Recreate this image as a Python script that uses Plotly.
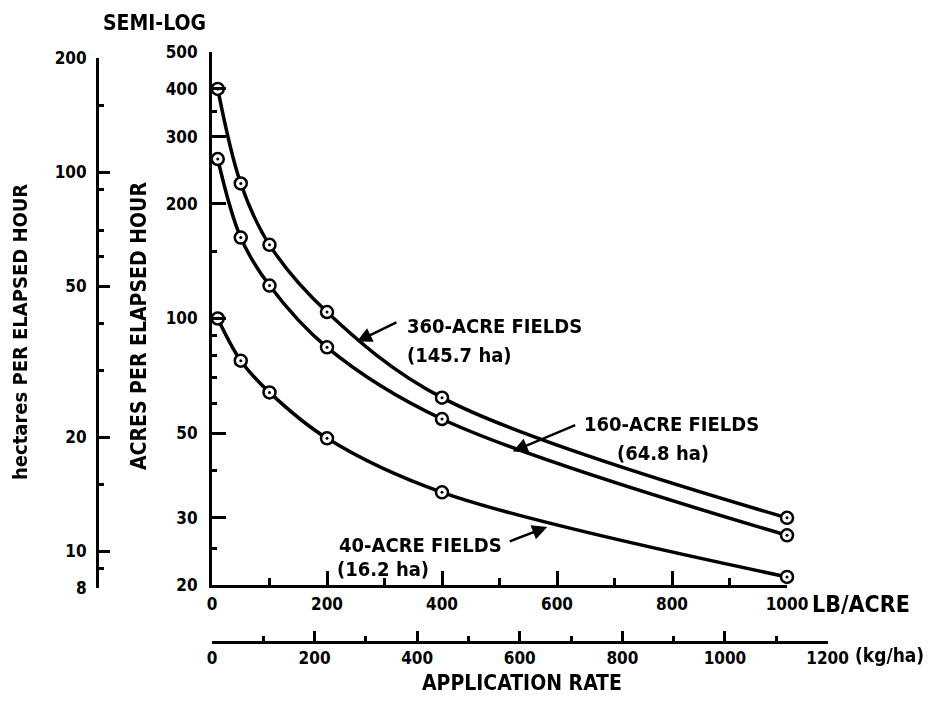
import math
import plotly.graph_objects as go

# application rate, lb/acre
rates = [10, 50, 100, 200, 400, 1000]

# acres per elapsed hour
acres_360 = [400, 226, 156, 104, 62, 30]
acres_160 = [262, 163, 122, 84, 54.5, 27]
acres_40 = [100, 77.5, 64, 48.5, 35, 21]

acre_ticks = [20, 30, 50, 100, 200, 300, 400, 500]
acre_minor = [25, 40, 60, 70, 80, 90, 150, 350]
ha_ticks = [8, 10, 20, 50, 100, 200]
ha_minor = [9, 15, 30, 40, 60, 70, 90, 150]
lb_ticks = [0, 200, 400, 600, 800, 1000]
lb_minor = [100, 300, 500, 700, 900]
kg_ticks = [0, 200, 400, 600, 800, 1000, 1200]
kg_minor = [100, 300, 500, 700, 900, 1100]

LB_TO_KG = 1.121    # lb/acre -> kg/ha
ACRE_TO_HA = 0.4047

W, H = 935, 704
OFF = 8  # page body margin
FONT = "DejaVu Sans Condensed, Liberation Sans Narrow, sans-serif"


def px(x):
    return (x - OFF) / W


def py(y):
    return 1 - (y - OFF) / H


fig = go.Figure()

for vals in [acres_360, acres_160, acres_40]:
    fig.add_trace(go.Scatter(
        x=rates, y=vals, mode='lines+markers',
        line=dict(color='black', width=3.5, shape='spline', smoothing=1),
        marker=dict(symbol='circle', size=12, color='white', line=dict(color='black', width=2.5)),
        cliponaxis=False, showlegend=False, hoverinfo='skip'))
    fig.add_trace(go.Scatter(
        x=rates, y=vals, mode='markers',
        marker=dict(symbol='circle', size=3, color='black'),
        cliponaxis=False, showlegend=False, hoverinfo='skip'))

# hidden traces so the secondary axes get drawn
fig.add_trace(go.Scatter(x=rates, y=[v * ACRE_TO_HA for v in acres_40], yaxis='y2',
                         mode='markers', opacity=0, showlegend=False, hoverinfo='skip'))
fig.add_trace(go.Scatter(x=[r * LB_TO_KG for r in rates], y=acres_40, xaxis='x2',
                         mode='markers', opacity=0, showlegend=False, hoverinfo='skip'))

tick_font = dict(family=FONT, size=17, color='black', weight='bold')
kg_px = 575 / 1000 / LB_TO_KG

axis_common = dict(showline=True, linecolor='black', linewidth=3, showgrid=False,
                   zeroline=False, ticks='inside', tickcolor='black', tickwidth=2.5,
                   tickfont=tick_font, automargin=False)

fig.update_layout(
    width=W, height=H,
    margin=dict(l=0, r=0, t=0, b=0),
    paper_bgcolor='white', plot_bgcolor='rgba(0,0,0,0)',
    xaxis=dict(domain=[px(212), px(787)], range=[0, 1000], anchor='y',
               tickvals=lb_ticks, ticklen=14, ticklabelstandoff=2,
               minor=dict(tickvals=lb_minor, ticklen=7, ticks='inside', tickwidth=2.5, tickcolor='black'),
               **axis_common),
    xaxis2=dict(domain=[px(212), px(212 + 1200 * kg_px)], range=[0, 1200], anchor='free',
                position=py(642), side='bottom',
                tickvals=kg_ticks, ticklen=10, ticklabelstandoff=0,
                minor=dict(tickvals=kg_minor, ticklen=5, ticks='inside', tickwidth=2.5, tickcolor='black'),
                **axis_common),
    yaxis=dict(type='log', domain=[py(585), py(52)], range=[math.log10(20), math.log10(500)],
               anchor='x', tickvals=acre_ticks, ticklen=14, ticklabelstandoff=8,
               minor=dict(tickvals=acre_minor, ticklen=5, ticks='inside', tickwidth=2.5, tickcolor='black'),
               **axis_common),
    yaxis2=dict(type='log', domain=[py(588), py(58)], range=[math.log10(8), math.log10(200)],
                anchor='free', position=px(97), side='left',
                tickvals=ha_ticks, ticklen=11, ticklabelstandoff=6,
                minor=dict(tickvals=ha_minor, ticklen=5, ticks='inside', tickwidth=2.5, tickcolor='black'),
                **axis_common),
)

label_font = dict(family=FONT, size=20, color='black')
small_font = dict(family=FONT, size=20, color='black')


def text(x, y, s, font, anchor='left', angle=0):
    fig.add_annotation(x=px(x), y=py(y), xref='paper', yref='paper', text=s,
                       showarrow=False, xanchor=anchor, yanchor='middle',
                       font=font, textangle=angle)


text(154, 23, '<b>SEMI-LOG</b>', dict(family=FONT, size=21, color='black'), anchor='center')
text(20, 332, '<b>hectares PER ELAPSED HOUR</b>', dict(family=FONT, size=20, color='black'),
     anchor='center', angle=-90)
text(139, 326, '<b>ACRES PER ELAPSED HOUR</b>', dict(family=FONT, size=21, color='black'),
     anchor='center', angle=-90)

text(405, 326, '<b>360-ACRE FIELDS</b>', label_font)
text(405, 355, '<b>(145.7 ha)</b>', small_font)
text(582, 424, '<b>160-ACRE FIELDS</b>', label_font)
text(615, 453, '<b>(64.8 ha)</b>', small_font)
text(337, 545, '<b>40-ACRE FIELDS</b>', label_font)
text(335, 569, '<b>(16.2 ha)</b>', small_font)

text(810, 604, '<b>LB/ACRE</b>', dict(family=FONT, size=23, color='black'))
text(853, 655, '<b>(kg/ha)</b>', dict(family=FONT, size=19, color='black'))
text(522, 683, '<b>APPLICATION RATE</b>', dict(family=FONT, size=21, color='black'), anchor='center')

# leader arrows from labels to curves
arrows = [(252, 87, 41, -20), (523, 44.8, 64, -27), (583, 28.4, -39, 15)]
for ax_x, ax_y, dx, dy in arrows:
    fig.add_annotation(x=ax_x, y=math.log10(ax_y), xref='x', yref='y', text='',
                       showarrow=True, ax=dx, ay=dy, arrowhead=2, arrowsize=1.2,
                       arrowwidth=2.5, arrowcolor='black', standoff=0)

fig.write_html("out.html")
